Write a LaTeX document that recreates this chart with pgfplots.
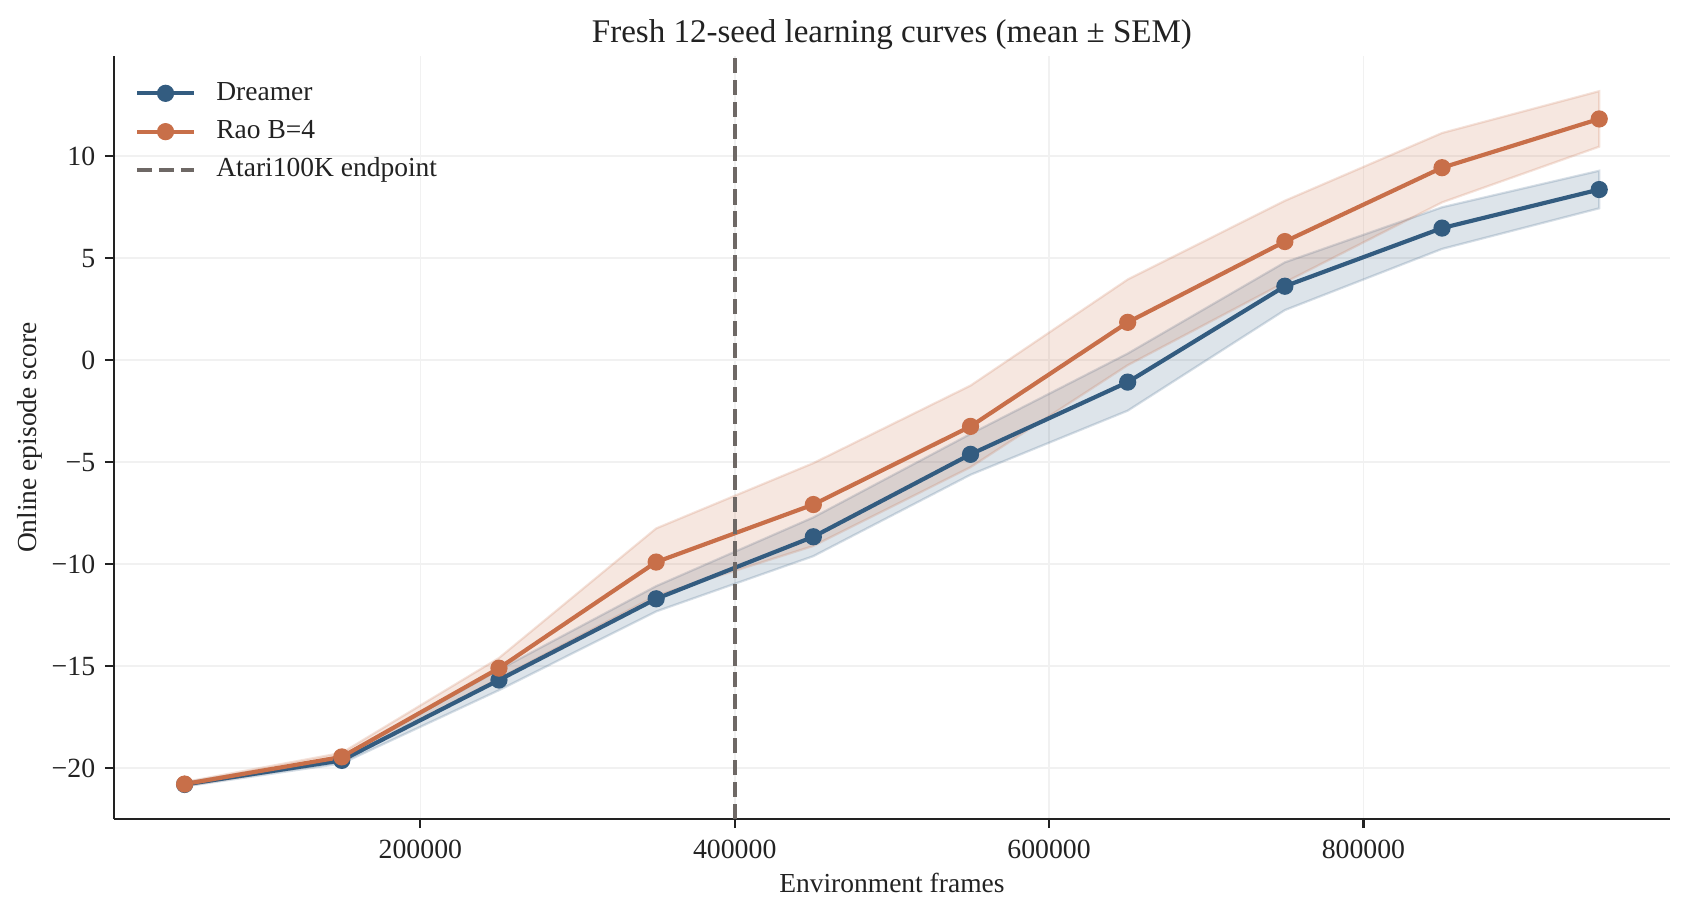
\documentclass[border=0pt]{standalone}
\usepackage{fontspec}
\setmainfont{Liberation Serif}
\usepackage{pgfplots}
\pgfplotsset{compat=1.18}
\usepackage{pgfplotstable}
\usepgfplotslibrary{fillbetween}
\definecolor{cblue}{RGB}{51,92,128}
\definecolor{corange}{RGB}{200,111,73}
\definecolor{cdash}{RGB}{110,104,101}
\definecolor{ctext}{RGB}{34,34,34}
\definecolor{cgrid}{RGB}{241,241,241}

\pgfplotstableread{
x      dm     dlo    dhi    rm     rlo    rhi
50000  -20.80 -20.90 -20.70 -20.78 -20.88 -20.68
150000 -19.62 -19.77 -19.47 -19.45 -19.65 -19.25
250000 -15.68 -16.18 -15.18 -15.10 -15.60 -14.60
350000 -11.70 -12.32 -11.08 -9.90  -11.55 -8.25
450000 -8.66  -9.61  -7.71  -7.08  -9.11  -5.05
550000 -4.62  -5.62  -3.62  -3.25  -5.25  -1.25
650000 -1.08  -2.48  0.32   1.85   -0.25  3.95
750000 3.62   2.45   4.79   5.81   3.81   7.81
850000 6.47   5.45   7.49   9.43   7.73   11.13
950000 8.36   7.44   9.28   11.82  10.46  13.18
}\data

\begin{document}
\begin{tikzpicture}
\begin{axis}[name=ax,
  scale only axis, width=560.2pt, height=274.7pt,
  xmin=5000, xmax=995000, ymin=-22.5, ymax=14.9,
  scaled x ticks=false, scaled y ticks=false,
  /pgf/number format/assume math mode=true,
  axis lines*=left,
  axis line style={-, line width=0.8pt, color=ctext},
  tick align=outside,
  major tick length=3.2pt,
  every tick/.style={ctext, line width=0.8pt},
  xtick={200000,400000,600000,800000},
  xticklabels={200000,400000,600000,800000},
  ytick={-20,-15,-10,-5,0,5,10},
  yticklabels={−20,−15,−10,−5,0,5,10},
  ticklabel style={font=\fontsize{10}{12}\selectfont, text=ctext},
  xticklabel style={yshift=-0.7pt},
  grid=major,
  major grid style={cgrid, line width=0.6pt},
  legend cell align=left,
  legend image code/.code={\draw[mark repeat=2,mark phase=2,#1] plot coordinates {(0pt,0pt) (10.25pt,0pt) (20.5pt,0pt)};},
  legend style={at={(axis description cs:0,1)}, anchor=north west,
    xshift=7.4pt, yshift=-8.7pt, draw=none, fill=none,
    inner sep=0pt, row sep=4.8pt, column sep=7.3pt,
    font=\fontsize{9.9}{12}\selectfont, text=ctext,
    nodes={inner sep=0pt, text height=7pt, text depth=2pt}},
]
\addplot[name path=dhi, draw=none, forget plot] table[x=x, y=dhi] {\data};
\addplot[name path=dlo, draw=none, forget plot] table[x=x, y=dlo] {\data};
\addplot[fill=cblue, fill opacity=0.17, draw=cblue, draw opacity=0.2, line width=0.8pt, forget plot] fill between[of=dhi and dlo];
\addplot[name path=rhi, draw=none, forget plot] table[x=x, y=rhi] {\data};
\addplot[name path=rlo, draw=none, forget plot] table[x=x, y=rlo] {\data};
\addplot[fill=corange, fill opacity=0.17, draw=corange, draw opacity=0.2, line width=0.8pt, forget plot] fill between[of=rhi and rlo];

\addplot[cblue, line width=1.5pt, mark=*, mark size=2.85pt, mark options={solid, line width=0.5pt, fill=cblue}] table[x=x, y=dm] {\data};
\addlegendentry{Dreamer}
\addplot[corange, line width=1.5pt, mark=*, mark size=2.85pt, mark options={solid, line width=0.5pt, fill=corange}] table[x=x, y=rm] {\data};
\addlegendentry{Rao B=4}
\addplot[cdash, line width=1.4pt, dash pattern=on 5.5pt off 2.4pt] coordinates {(400000,-22.5) (400000,14.9)};
\addlegendentry{Atari100K endpoint}
\end{axis}
\node[font=\fontsize{11.9}{14}\selectfont, text=ctext] at ([yshift=7.8pt]ax.north) {Fresh 12-seed learning curves (mean ± SEM)};
\node[font=\fontsize{9.9}{12}\selectfont, text=ctext] at ([yshift=-23pt]ax.south) {Environment frames};
\node[font=\fontsize{9.9}{12}\selectfont, text=ctext, rotate=90] at ([xshift=-30.2pt]ax.west) {Online episode score};
\pgfresetboundingbox
\path ([xshift=-41pt,yshift=-34.6pt]ax.south west) rectangle ([xshift=6.5pt,yshift=20.2pt]ax.north east);
\end{tikzpicture}
\end{document}
